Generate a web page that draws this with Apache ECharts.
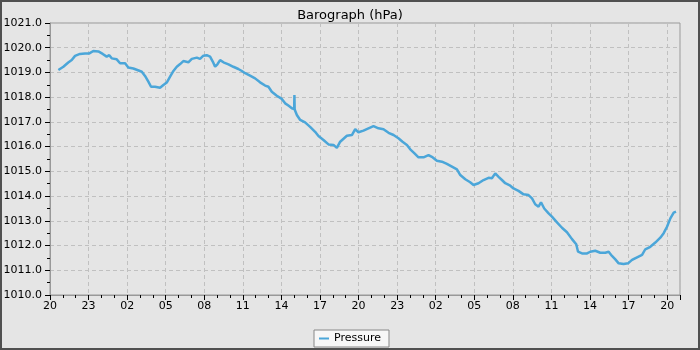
<!DOCTYPE html>
<html>
<head>
<meta charset="utf-8">
<script src="https://cdn.jsdelivr.net/npm/echarts@6/dist/echarts.min.js"></script>
<style>
html,body{margin:0;padding:0;background:#e5e5e5;}
#chart{width:700px;height:350px;}
</style>
</head>
<body>
<div id="chart"></div>
<script>
// Hours elapsed since 20:00 on the first day
const hours = [
  0.65,1.04,1.42,1.69,1.95,2.33,2.72,3.06,3.37,3.76,4.10,4.41,4.61,4.80,5.19,5.45,5.84,6.09,6.48,6.79,
  7.14,7.39,7.65,7.86,8.17,8.56,8.82,9.08,9.34,9.60,9.86,10.12,10.37,10.76,11.03,11.42,11.67,11.93,12.19,12.45,
  12.66,12.84,13.02,13.23,13.49,13.88,14.26,14.65,14.92,15.18,15.56,15.95,16.34,16.73,16.99,17.25,17.64,18.03,18.29,18.54,
  18.81,18.99,19.01,19.03,19.20,19.46,19.84,20.23,20.62,20.88,21.27,21.66,22.05,22.31,22.57,23.09,23.48,23.74,23.99,24.38,
  24.77,25.16,25.55,25.94,26.33,26.72,27.10,27.42,27.76,28.02,28.35,28.66,29.05,29.44,29.70,30.09,30.48,30.87,31.26,31.65,
  31.91,32.30,32.68,32.94,33.33,33.72,34.11,34.37,34.63,34.89,35.15,35.41,35.80,36.05,36.44,36.83,37.22,37.49,37.74,38.00,
  38.19,38.44,38.78,39.04,39.43,39.82,40.21,40.60,40.93,41.07,41.38,41.77,42.02,42.41,42.80,43.19,43.45,43.71,43.97,44.23,
  44.61,44.96,45.27,45.66,46.05,46.30,46.69,47.08,47.47,47.73,47.99,48.25,48.51,48.69
];
const pressure = [
  1019.10,1019.23,1019.40,1019.50,1019.67,1019.75,1019.77,1019.77,1019.87,1019.85,1019.75,1019.64,1019.70,1019.57,1019.53,1019.37,1019.37,1019.20,1019.16,1019.10,
  1019.03,1018.86,1018.63,1018.42,1018.42,1018.38,1018.49,1018.59,1018.83,1019.06,1019.23,1019.34,1019.46,1019.41,1019.55,1019.60,1019.55,1019.68,1019.70,1019.64,
  1019.44,1019.23,1019.33,1019.50,1019.41,1019.33,1019.23,1019.14,1019.06,1018.97,1018.87,1018.76,1018.60,1018.47,1018.42,1018.22,1018.06,1017.93,1017.75,1017.66,
  1017.55,1017.52,1018.09,1017.50,1017.28,1017.08,1016.98,1016.80,1016.60,1016.43,1016.27,1016.09,1016.07,1015.95,1016.20,1016.44,1016.47,1016.71,1016.58,1016.65,
  1016.74,1016.83,1016.74,1016.70,1016.56,1016.47,1016.34,1016.20,1016.07,1015.89,1015.73,1015.57,1015.57,1015.66,1015.59,1015.43,1015.39,1015.30,1015.19,1015.08,
  1014.85,1014.68,1014.56,1014.45,1014.52,1014.65,1014.74,1014.72,1014.92,1014.78,1014.65,1014.52,1014.42,1014.31,1014.21,1014.07,1014.04,1013.91,1013.67,1013.57,
  1013.75,1013.50,1013.30,1013.17,1012.94,1012.72,1012.54,1012.26,1012.05,1011.75,1011.68,1011.68,1011.75,1011.79,1011.71,1011.71,1011.75,1011.58,1011.44,1011.28,
  1011.25,1011.28,1011.42,1011.52,1011.62,1011.85,1011.95,1012.12,1012.32,1012.50,1012.76,1013.10,1013.33,1013.37
];
const startHour = 20;
const xMin = 0, xMax = 49, xInterval = 3;
const yMin = 1010, yMax = 1021, yInterval = 1;
const titleText = 'Barograph (hPa)';
const seriesName = 'Pressure';

const chart = echarts.init(document.getElementById('chart'), null, {renderer: 'canvas'});
const font = 'DejaVu Sans';
chart.setOption({
  backgroundColor: '#e5e5e5',
  animation: false,
  title: {
    text: titleText, left: 'center', top: 4,
    textStyle: {fontFamily: font, fontSize: 13, fontWeight: 'normal', color: '#000'}
  },
  legend: {
    data: [seriesName], top: 330, left: 'center',
    backgroundColor: '#f7f7f7', borderColor: '#888', borderWidth: 1,
    padding: [3, 8, 3, 5], itemWidth: 10, itemHeight: 2, icon: 'rect',
    textStyle: {fontFamily: font, fontSize: 11, color: '#000'}
  },
  grid: {left: 50, right: 20, top: 23, bottom: 55, show: true, borderColor: '#999', borderWidth: 1, backgroundColor: 'transparent'},
  xAxis: {
    type: 'value', min: xMin, max: xMax, interval: xInterval,
    axisLine: {show: true, lineStyle: {color: '#999'}},
    axisTick: {show: true, length: 5, lineStyle: {color: '#000'}},
    minorTick: {show: true, splitNumber: 3, length: 3, lineStyle: {color: '#000'}},
    axisLabel: {
      margin: 6, showMaxLabel: false, fontFamily: font, fontSize: 11, color: '#000',
      formatter: v => String((startHour + Math.round(v)) % 24).padStart(2, '0')
    },
    splitLine: {show: true, lineStyle: {color: '#c0c0c0', type: [4, 3]}}
  },
  yAxis: {
    type: 'value', min: yMin, max: yMax, interval: yInterval,
    axisLine: {show: true, lineStyle: {color: '#999'}},
    axisTick: {show: true, length: 5, lineStyle: {color: '#000'}},
    minorTick: {show: true, splitNumber: 2, length: 3, lineStyle: {color: '#000'}},
    axisLabel: {margin: 8, fontFamily: font, fontSize: 11, color: '#000', formatter: v => v.toFixed(1)},
    splitLine: {show: true, lineStyle: {color: '#c0c0c0', type: [4, 3]}}
  },
  graphic: [{
    type: 'rect', silent: true, z: 100,
    shape: {x: 1, y: 1, width: 698, height: 348},
    style: {fill: 'none', stroke: '#505050', lineWidth: 2}
  }],
  series: [{
    name: seriesName, type: 'line', showSymbol: false,
    data: hours.map((h, i) => [h, pressure[i]]),
    lineStyle: {color: '#4ba6d9', width: 2.5},
    itemStyle: {color: '#4ba6d9'}
  }]
});
</script>
</body>
</html>
